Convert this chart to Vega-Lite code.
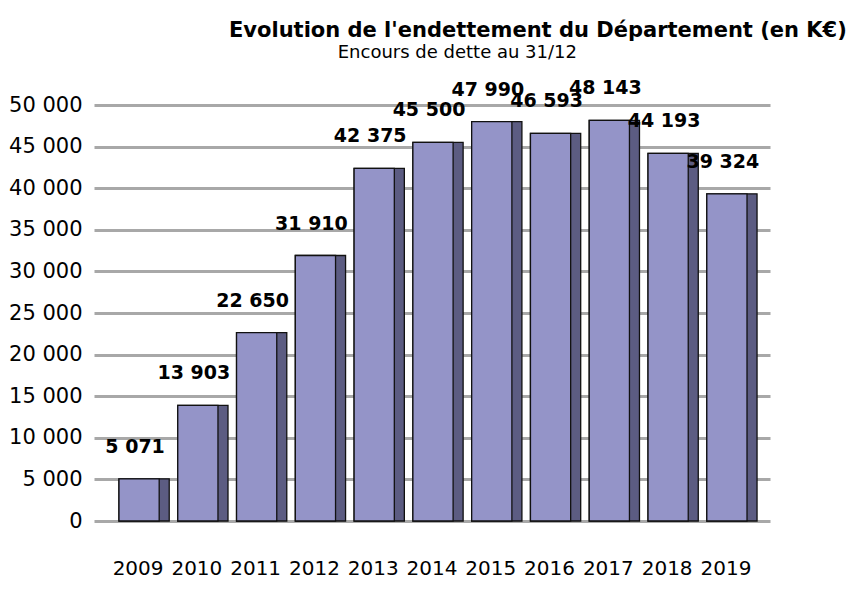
{
  "$schema": "https://vega.github.io/schema/vega-lite/v6.json",
  "width": 868,
  "height": 612,
  "autosize": {"type": "fit", "contains": "padding"},
  "padding": {"left": 8, "right": 98, "top": 27, "bottom": 34},
  "background": "white",
  "config": {
    "locale": {"number": {"decimal": ",", "thousands": " ", "grouping": [3], "currency": ["", " €"]}},
    "font": "DejaVu Sans",
    "view": {"stroke": null}
  },
  "title": {
    "text": "Evolution de l'endettement du Département (en K€)",
    "subtitle": "\u200b\u00a0\u00a0\u00a0\u00a0\u00a0\u00a0\u00a0\u00a0\u00a0\u00a0\u00a0\u00a0\u00a0\u00a0\u00a0\u00a0\u00a0\u00a0\u00a0Encours de dette au 31/12",
    "anchor": "start",
    "frame": "group",
    "dx": 135,
    "fontSize": 21,
    "fontWeight": "bold",
    "font": "DejaVu Sans",
    "color": "#000000",
    "subtitleFont": "DejaVu Sans",
    "subtitleFontSize": 18,
    "subtitleColor": "#000000",
    "subtitlePadding": 3,
    "offset": 17
  },
  "data": {
    "values": [
      {"year": "2009", "value": 5071},
      {"year": "2010", "value": 13903},
      {"year": "2011", "value": 22650},
      {"year": "2012", "value": 31910},
      {"year": "2013", "value": 42375},
      {"year": "2014", "value": 45500},
      {"year": "2015", "value": 47990},
      {"year": "2016", "value": 46593},
      {"year": "2017", "value": 48143},
      {"year": "2018", "value": 44193},
      {"year": "2019", "value": 39324}
    ]
  },
  "encoding": {
    "x": {
      "field": "year",
      "type": "ordinal",
      "scale": {"paddingInner": 0, "paddingOuter": 0.25},
      "axis": {
        "title": null,
        "labelAngle": 0,
        "labelFontSize": 20,
        "labelColor": "#000000",
        "labelPadding": 37,
        "domain": false,
        "ticks": false
      }
    },
    "y": {
      "field": "value",
      "type": "quantitative",
      "scale": {"domain": [0, 50000], "nice": false},
      "axis": {
        "title": null,
        "values": [0, 5000, 10000, 15000, 20000, 25000, 30000, 35000, 40000, 45000, 50000],
        "format": ",d",
        "labelFontSize": 21,
        "labelColor": "#000000",
        "labelPadding": 12,
        "domain": false,
        "ticks": false,
        "grid": true,
        "gridColor": "#a8a8a8",
        "gridWidth": 3
      }
    }
  },
  "layer": [
    {
      "mark": {"type": "bar", "width": {"band": 0.855}, "fill": "#5c5c82", "stroke": "#111111", "strokeWidth": 1.3, "xOffset": 6}
    },
    {
      "mark": {"type": "bar", "width": {"band": 0.684}, "fill": "#9494c8", "stroke": "#111111", "strokeWidth": 1.3, "xOffset": 1}
    },
    {
      "mark": {"type": "text", "baseline": "middle", "dy": -32, "dx": -3, "fontSize": 19, "fontWeight": "bold", "color": "#000000"},
      "encoding": {"text": {"field": "value", "type": "quantitative", "format": ",d"}}
    }
  ]
}
